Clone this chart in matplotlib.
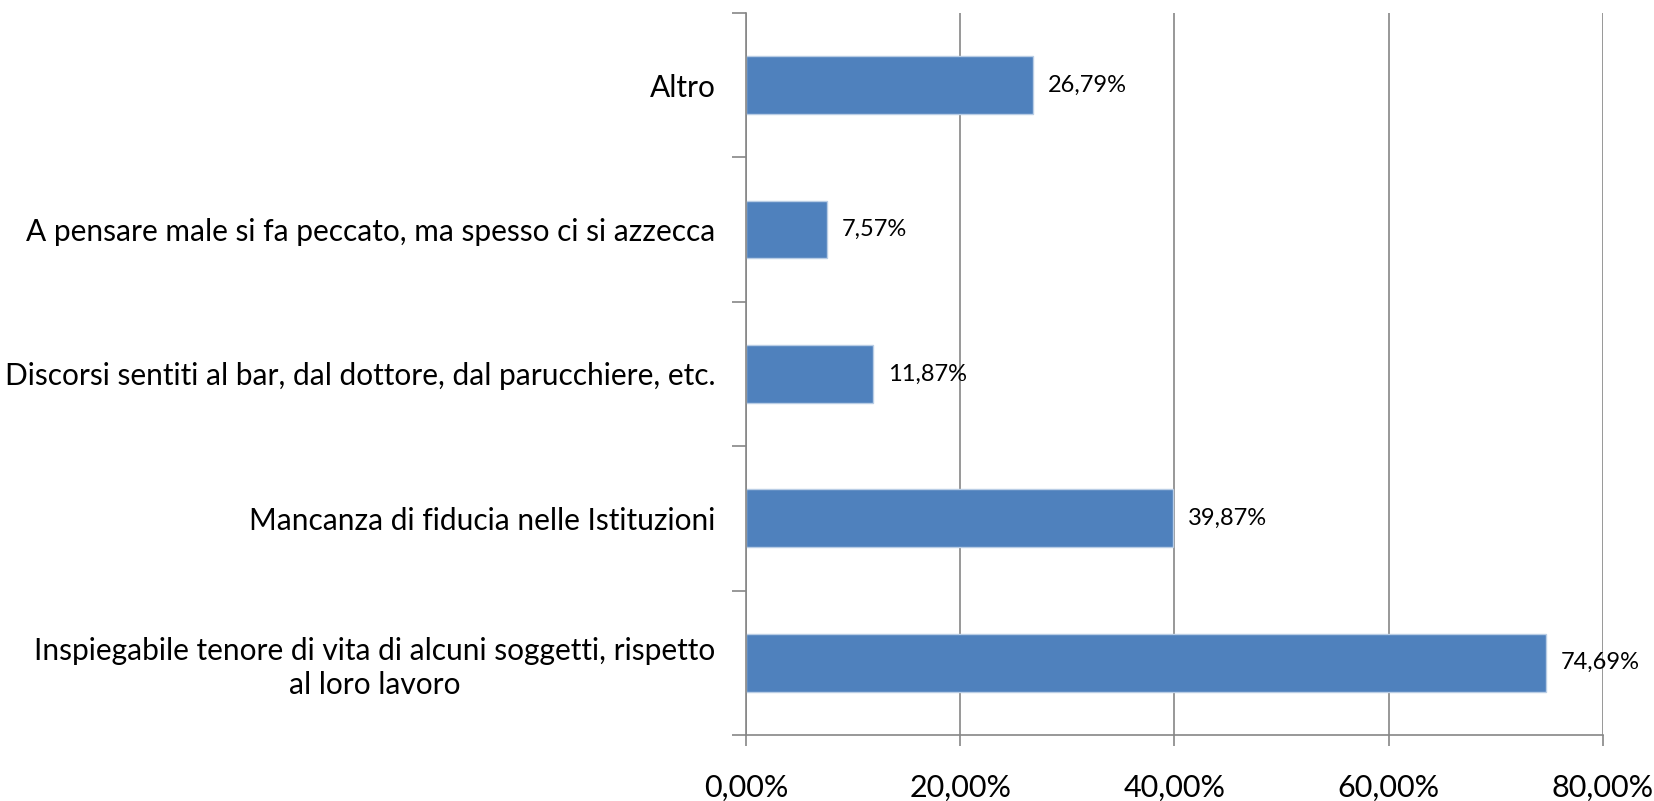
import matplotlib.pyplot as plt
from matplotlib.ticker import FuncFormatter, FixedLocator
import numpy as np

# dati (dal basso verso l'alto)
categorie = [
    "Inspiegabile tenore di vita di alcuni soggetti, rispetto\nal loro lavoro",
    "Mancanza di fiducia nelle Istituzioni",
    "Discorsi sentiti al bar, dal dottore, dal parucchiere, etc.",
    "A pensare male si fa peccato, ma spesso ci si azzecca",
    "Altro",
]
percentuali = [74.69, 39.87, 11.87, 7.57, 26.79]
tick_x = [0, 20, 40, 60, 80]

plt.rcParams['font.family'] = ['Lato', 'DejaVu Sans']

def fmt_perc(v):
    return f"{v:.2f}%".replace('.', ',')

fig = plt.figure(figsize=(16.54, 8.01), dpi=100)
ax = fig.add_axes([0.451, 0.0824, 0.518, 0.9016])

pos = np.arange(len(categorie))
ax.barh(pos, percentuali, height=0.4, color='#4F81BD', edgecolor='#B9CDE5', linewidth=1)

for p, v in zip(pos, percentuali):
    ax.annotate(fmt_perc(v), (v, p), xytext=(15, 0), textcoords='offset pixels',
                va='center', ha='left', fontsize=17, color='black')

ax.set_xlim(0, 80)
ax.set_ylim(-0.5, len(categorie) - 0.5)

grigio = '#868686'
ax.xaxis.set_major_locator(FixedLocator(tick_x))
ax.xaxis.set_major_formatter(FuncFormatter(lambda v, _: fmt_perc(v)))
ax.grid(axis='x', color=grigio, linewidth=1.2)
ax.set_axisbelow(True)

# tacche sui confini delle categorie, etichette al centro
ax.set_yticks(np.arange(-0.5, len(categorie), 1.0))
ax.set_yticklabels([])
ax.set_yticks(pos, minor=True)
ax.set_yticklabels(categorie, minor=True, fontsize=21.5, multialignment='center',
                   linespacing=1.25)
ax.tick_params(axis='y', which='minor', length=0, pad=22)
ax.tick_params(axis='y', which='major', length=10, width=1.2, color=grigio)
ax.tick_params(axis='x', length=8, width=1.2, color=grigio, labelsize=22, pad=20)

for lato in ['top', 'right']:
    ax.spines[lato].set_visible(False)
for lato in ['left', 'bottom']:
    ax.spines[lato].set_color(grigio)
    ax.spines[lato].set_linewidth(1.2)

fig.savefig('out.png', dpi=100)
